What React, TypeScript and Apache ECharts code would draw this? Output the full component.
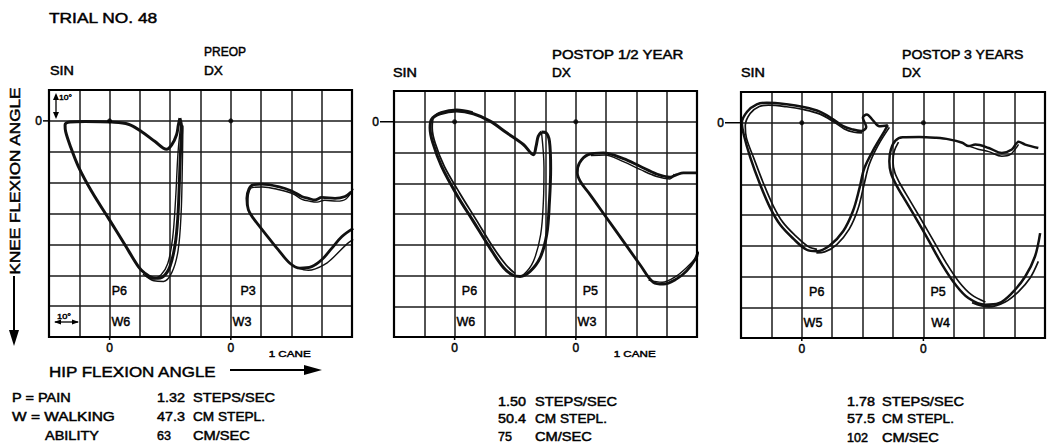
import React, { useEffect, useRef } from "react";
import * as echarts from "echarts";

type P = [number, number];

// Axis ranges (per panel): hip flexion 0..100 (SIN zero at 20, DX zero at 60), knee flexion -10..70 (down)
const X_MIN = 0, X_MAX = 100, Y_MIN = -10, Y_MAX = 70;
const X_ZERO_TICKS = [20, 60];
const Y_ZERO_TICKS = [0];

// ---------- PREOP ----------
const preopSinA: P[] = [[43.2,-0.9],[43.8,2.4],[43.4,9.9],[43.0,20.7],[42.5,31.5],[41.6,40.2],[39.9,47.2],[37.7,50.4],[35.0,51.0],[31.7,49.4],[29.5,47.2],[25.1,40.2],[19.6,31.5],[14.1,22.9],[9.7,14.8],[6.9,7.8],[5.5,3.5],[5.3,1.3],[6.9,0.4],[11.9,0.2],[20.7,0.4],[26.2,1.1],[30.6,3.5],[35.0,6.7],[38.8,9.2],[40.5,7.8],[42.1,4.5],[42.7,1.3],[43.2,-0.9]];
const preopSinB: P[] = [[43.6,0.5],[42.6,10],[41.8,25],[40.8,38],[39.2,46.2],[37.0,49.8],[34.0,51.2],[31.0,49.6]];
const preopSinC: P[] = [[44.2,1.5],[44.0,15],[43.6,30],[42.6,42],[40.6,49],[37.8,52],[34.6,51.8],[32.0,50.2]];
const preopDxA: P[] = [[99.8,23],[97.7,24.5],[94.4,25.1],[90.0,24.8],[87.8,25.6],[85.6,25.1],[83.4,24.5],[80.1,22.7],[75.7,21.3],[70.2,20.5],[67.4,20.7],[66.0,22.0],[65.3,25.1],[65.8,28.8],[67.4,31.5],[71.3,36.4],[75.7,41.8],[79.5,46.1],[82.8,47.7],[86.7,47.2],[90.0,45.0],[93.3,41.3],[96.6,37.5],[100.4,34.8]];
const preopDxB: P[] = [[100.4,22],[98.0,25.3],[95.0,26.0],[91.0,25.7],[88.5,26.3],[86.0,26.0],[83.5,25.4],[80.5,23.6],[76.0,22.3],[70.5,21.4],[67.0,21.6],[65.8,24],[65.6,27.5]];
const preopDxC: P[] = [[82.0,47.6],[85.6,48.4],[91.1,46.4],[94.9,43.2],[98.2,40.0],[100.4,38.4]];

// ---------- POSTOP 1/2 YEAR ----------
const halfSinA: P[] = [[48.7,3.3],[50.2,3.6],[51.3,6.3],[51.7,15.0],[51.3,25.9],[50.4,36.7],[48.2,44.3],[44.9,48.7],[41.6,50.3],[39.4,50.0],[36.1,47.4],[31.7,41.1],[26.2,32.4],[20.7,23.7],[15.7,14.5],[12.8,6.8],[11.9,2.0],[12.4,-0.8],[15.2,-2.6],[20.7,-3.5],[26.2,-2.6],[31.7,-0.2],[37.2,3.6],[42.7,7.4],[46.0,10.7],[46.9,7.9],[47.6,4.7],[48.7,3.3]];
const halfSinB: P[] = [[48.7,3.6],[49.5,15.0],[49.3,25.9],[48.4,36.7],[46.0,45.4],[42.7,49.8],[40.5,50.3]];
const halfSinC: P[] = [[26.0,-3.1],[20.7,-4.0],[15.5,-3.1],[13.0,-1.3],[12.6,2.0],[13.6,7.0],[16.6,14.5],[21.8,23.4],[27.2,32.0],[32.5,40.5],[37.0,46.6],[40.0,49.4]];
const halfDxA: P[] = [[100,16.6],[95.5,16.6],[93.3,17.2],[91.1,18.0],[86.7,17.0],[81.2,14.5],[75.7,12.0],[69.1,10.1],[64.1,10.7],[61.2,13.4],[60.5,16.6],[61.6,19.6],[64.7,23.7],[70.2,31.3],[75.7,38.9],[81.2,46.5],[85.6,52.2],[88.9,52.8],[93.3,51.1],[96.6,48.5],[99.3,44.9],[100.4,42.2]];
const halfDxB: P[] = [[92.5,17.0],[91.0,18.6],[86.7,17.8],[81.2,15.5],[75.7,13.0],[69.5,10.8],[65.0,11.0]];
const halfDxC: P[] = [[84.0,51.5],[88.5,52.2],[93.0,50.3],[97.0,47.0],[100.4,43.5]];

// ---------- POSTOP 3 YEARS ----------
const threeSinA: P[] = [[48.3,0.8],[47.2,2.7],[43.9,8.2],[40.6,14.7],[39.0,21.2],[36.8,28.8],[33.6,35.3],[29.2,39.9],[24.8,41.8],[21.6,41.3],[17.2,37.7],[12.9,33.2],[9.6,27.7],[6.3,20.1],[3.1,11.4],[0.9,3.8],[0.3,0],[2.0,-3.6],[5.2,-6.0],[8.5,-6.5],[15.0,-6.0],[20.5,-5.1],[25.9,-3.6],[30.3,-1.1],[33.6,1.1],[36.8,2.2],[39.5,2.7],[41.2,1.4],[40.1,-1.6],[41.4,-2.7],[43.4,-0.8],[45.5,1.1],[48.3,0.8]];
const threeSinB: P[] = [[48.8,1.5],[45.0,7.5],[42.2,13.5],[40.5,20.0],[38.5,28.0],[35.6,34.6],[31.5,39.6],[27.5,42.0],[24.8,42.3]];
const threeSinC: P[] = [[39.8,3.3],[37.2,3.1],[34.0,2.0],[30.5,-0.3],[26.0,-2.8],[20.5,-4.3],[15.0,-5.2],[9.0,-5.7],[6.0,-5.3],[3.0,-3.0],[1.4,1.0],[1.8,5.0],[4.2,11.5],[7.3,19.5],[10.6,27.0],[13.8,32.4],[18.0,36.8],[22.0,40.2],[25.0,41.2]];
const threeDxA: P[] = [[97.8,8.2],[93.5,7.1],[91.3,6.2],[89.1,8.7],[85.8,9.8],[81.5,8.2],[77.1,7.1],[74.9,7.6],[72.8,6.5],[68.4,5.4],[64.1,4.9],[58.6,4.6],[53.2,4.7],[50.8,5.8],[49.3,8.7],[48.8,12.5],[49.3,16.3],[51.0,20.1],[54.2,25.5],[57.5,31.0],[61.9,38.6],[66.2,46.2],[70.6,52.7],[74.9,57.1],[80.4,59.2],[84.8,58.7],[89.1,55.4],[93.5,50.0],[96.7,43.5],[98.4,35.9]];
const threeDxB: P[] = [[51.8,6.3],[50.4,9.3],[50.0,12.8],[50.6,16.2],[52.2,19.6],[55.4,25.0],[58.7,30.5],[63.1,38.0],[67.4,45.4],[71.6,51.6],[75.8,55.9],[80.4,58.3]];
const threeDxC: P[] = [[76.0,58.5],[81.5,59.9],[86.9,58.3],[91.3,54.9],[95.1,50.5],[97.8,45.1]];
const threeDxD: P[] = [[74.9,7.6],[78.0,8.6],[81.5,9.4],[85.8,10.9],[88.5,10.4],[91.3,7.0]];

const origins: P[] = [[20, 0], [60, 0]];

// Texts
const panelTitles = ["PREOP", "POSTOP 1/2 YEAR", "POSTOP 3 YEARS"];
const painLabels = [["P6", "P3"], ["P6", "P5"], ["P6", "P5"]];
const walkLabels = [["W6", "W3"], ["W6", "W3"], ["W5", "W4"]];
const stepsPerSec = ["1.32", "1.50", "1.78"];
const stepLength = ["47.3", "50.4", "57.5"];
const speed = ["63", "75", "102"];
const caneNotes = ["1 CANE", "1 CANE", ""];

const panelTraces: { data: P[]; w: number }[][] = [
  [ { data: preopSinA, w: 3 }, { data: preopSinB, w: 1.4 }, { data: preopSinC, w: 1.4 }, { data: preopDxA, w: 2.8 }, { data: preopDxB, w: 1.4 }, { data: preopDxC, w: 1.4 } ],
  [ { data: halfSinA, w: 3 }, { data: halfSinB, w: 1.4 }, { data: halfSinC, w: 1.8 }, { data: halfDxA, w: 2.8 }, { data: halfDxB, w: 1.4 }, { data: halfDxC, w: 1.4 } ],
  [ { data: threeSinA, w: 2.5 }, { data: threeSinB, w: 1.7 }, { data: threeSinC, w: 1.7 }, { data: threeDxA, w: 2.5 }, { data: threeDxB, w: 1.7 }, { data: threeDxC, w: 1.7 }, { data: threeDxD, w: 1.5 } ],
];

const GRIDS = [
  { left: 49, top: 90, width: 303, height: 247, tick: 6 },
  { left: 394, top: 91, width: 303, height: 246, tick: 14 },
  { left: 741, top: 92, width: 304, height: 246, tick: 16 },
];
const FONT = '"Liberation Sans", Arial, Helvetica, sans-serif';
const INK = "#000";

export default function App() {
  const ref = useRef<HTMLDivElement>(null);
  useEffect(() => {
    if (!ref.current) return;
    const chart = echarts.init(ref.current, undefined, { renderer: "svg" });
    const cv = document.createElement("canvas");
    const ctx = cv.getContext("2d");
    const measure = (t: string, size: number, weight: string) => {
      if (!ctx) return 0;
      ctx.font = `${weight} ${size}px ${FONT}`;
      return ctx.measureText(t).width;
    };
    const text = (t: string, x: number, y: number, size: number, targetW?: number, extra: any = {}) => {
      const weight = extra.weight || "normal";
      const m = measure(t, size, weight);
      const sx = targetW && m > 0 ? targetW / m : 1;
      return {
        type: "text", x, y, scaleX: sx, rotation: extra.rotation || 0, silent: true,
        style: { text: t, fill: INK, stroke: INK, lineWidth: 0.45, fontSize: size, fontFamily: FONT, fontWeight: weight, align: extra.align || "left", verticalAlign: "middle" },
      };
    };
    const px = (g: number, xd: number) => GRIDS[g].left + ((xd - X_MIN) / (X_MAX - X_MIN)) * GRIDS[g].width;
    const py = (g: number, yd: number) => GRIDS[g].top + ((yd - Y_MIN) / (Y_MAX - Y_MIN)) * GRIDS[g].height;
    const line = (x1: number, y1: number, x2: number, y2: number, w = 1.8) => ({ type: "line", silent: true, shape: { x1, y1, x2, y2 }, style: { stroke: INK, lineWidth: w } });
    const poly = (pts: number[][]) => ({ type: "polygon", silent: true, shape: { points: pts }, style: { fill: INK } });

    const graphics: any[] = [];
    graphics.push(text("TRIAL NO. 48", 49, 18, 14, 109));
    const titleX = [204, 552, 902];
    const titleY = [52, 55, 55];
    const titleW = [42, 132, 122];
    const sinX = [50, 393, 741];
    const sinY = [71, 73, 73];
    panelTitles.forEach((t, i) => {
      graphics.push(text(t, titleX[i], titleY[i], 12, titleW[i]));
      graphics.push(text("SIN", sinX[i], sinY[i], 12, 24));
      graphics.push(text("DX", titleX[i], sinY[i], 12, 19));
      // P / W ratings
      graphics.push(text(painLabels[i][0], px(i, i === 0 ? 20.7 : 22.4), py(i, 55), 12.5));
      graphics.push(text(walkLabels[i][0], px(i, 20.6), py(i, 65), 12.5));
      graphics.push(text(painLabels[i][1], px(i, i === 0 ? 63.2 : 62.3), py(i, 55), 12.5));
      graphics.push(text(walkLabels[i][1], px(i, i === 2 ? 62.6 : 60.6), py(i, 65), 12.5));
      if (caneNotes[i]) graphics.push(text(caneNotes[i], px(i, 72.5), 353, 9.5, 42));
      // zero ticks
      X_ZERO_TICKS.forEach((xv) => graphics.push(line(px(i, xv), GRIDS[i].top + GRIDS[i].height, px(i, xv), GRIDS[i].top + GRIDS[i].height + 3, 1.5)));
      Y_ZERO_TICKS.forEach((yv) => graphics.push(line(GRIDS[i].left - GRIDS[i].tick, py(i, yv), GRIDS[i].left, py(i, yv), 1.5)));
    });
    // gait numbers
    const numX = [157, 498, 847];
    const unitX = [193, 535, 882];
    const rowY = [[398, 417, 436], [402, 419, 437], [402, 419, 438]];
    for (let i = 0; i < 3; i++) {
      graphics.push(text(stepsPerSec[i], numX[i], rowY[i][0], 12, 28));
      graphics.push(text("STEPS/SEC", unitX[i], rowY[i][0], 12, 82));
      graphics.push(text(stepLength[i], numX[i], rowY[i][1], 12, 28));
      graphics.push(text("CM STEPL.", unitX[i], rowY[i][1], 12, 72));
      graphics.push(text(speed[i], numX[i], rowY[i][2], 12, speed[i].length === 3 ? 21 : 14));
      graphics.push(text("CM/SEC", unitX[i], rowY[i][2], 12, 57));
    }
    graphics.push(text("P = PAIN", 12, 398, 12, 59));
    graphics.push(text("W = WALKING", 12, 417, 12, 103));
    graphics.push(text("ABILITY", 45, 436, 12, 54));
    // axis titles
    graphics.push(text("HIP FLEXION ANGLE", 49, 371, 15, 168));
    graphics.push(line(230, 370, 306, 370, 2));
    graphics.push(poly([[304, 365], [322, 370], [304, 375]]));
    graphics.push(text("KNEE FLEXION ANGLE", 15, 181, 14, 188, { rotation: Math.PI / 2, align: "center" }));
    graphics.push(line(14, 276, 14, 333, 2));
    graphics.push(poly([[9, 330], [19, 330], [14, 346]]));
    // 10 degree scale markers (panel 1)
    graphics.push(line(56, 95, 56, 117, 1.3));
    graphics.push(poly([[53, 100], [59, 100], [56, 93]]));
    graphics.push(poly([[53, 112], [59, 112], [56, 119]]));
    graphics.push(text("10°", 59, 97, 8, 13));
    graphics.push(line(55, 322, 78, 322, 1.3));
    graphics.push(poly([[54, 322], [61, 319.5], [61, 324.5]]));
    graphics.push(poly([[79, 322], [72, 319.5], [72, 324.5]]));
    graphics.push(text("10°", 57, 316, 8, 14));

    const series: any[] = [];
    panelTraces.forEach((traces, i) => {
      traces.forEach((tr) => {
        series.push({
          type: "line", xAxisIndex: i, yAxisIndex: i, data: tr.data, showSymbol: false, symbol: "none",
          smooth: 0.35, clip: true, silent: true, lineStyle: { color: "#111", width: tr.w }, z: 3,
        });
      });
      series.push({ type: "scatter", xAxisIndex: i, yAxisIndex: i, data: origins, symbolSize: 5, itemStyle: { color: INK }, silent: true, z: 4 });
    });

    const option: any = {
      animation: false,
      backgroundColor: "#fff",
      grid: GRIDS.map((g) => ({ left: g.left, top: g.top, width: g.width, height: g.height, show: true, borderColor: "#000", borderWidth: 2.2, backgroundColor: "transparent", z: 5 })),
      xAxis: GRIDS.map((g, i) => ({
        type: "value", gridIndex: i, min: X_MIN, max: X_MAX, interval: 10,
        axisLine: { show: false, onZero: false },
        axisTick: { show: false },
        axisLabel: { formatter: (v: number) => (X_ZERO_TICKS.includes(v) ? "0" : ""), color: INK, fontSize: 12, fontFamily: FONT, margin: 5, textBorderColor: INK, textBorderWidth: 0.45 },
        splitLine: { show: true, lineStyle: { color: "#1a1a1a", width: 1.5 } },
      })),
      yAxis: GRIDS.map((g, i) => ({
        type: "value", gridIndex: i, min: Y_MIN, max: Y_MAX, interval: 10, inverse: true,
        axisLine: { show: false, onZero: false },
        axisTick: { show: false },
        axisLabel: { formatter: (v: number) => (Y_ZERO_TICKS.includes(v) ? "0" : ""), color: INK, fontSize: 12, fontFamily: FONT, margin: g.tick + 1, textBorderColor: INK, textBorderWidth: 0.45 },
        splitLine: { show: true, lineStyle: { color: "#1a1a1a", width: 1.5 } },
      })),
      series,
      graphic: graphics,
    };
    chart.setOption(option);
    return () => chart.dispose();
  }, []);
  return <div ref={ref} style={{ position: "fixed", left: 0, top: 0, width: 1050, height: 446, background: "#fff" }} />;
}
